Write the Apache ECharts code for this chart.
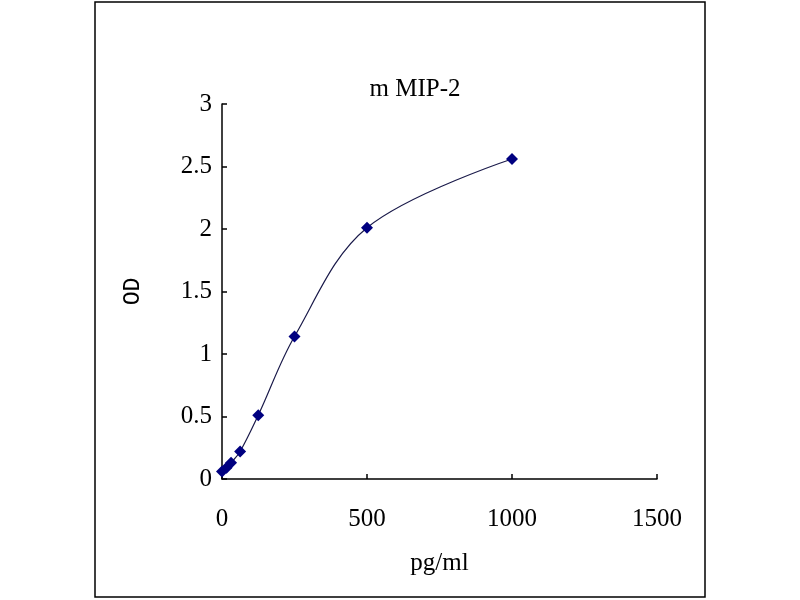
<!DOCTYPE html>
<html>
<head>
<meta charset="utf-8">
<script src="https://cdn.jsdelivr.net/npm/echarts@6/dist/echarts.min.js"></script>
<style>
html,body{margin:0;padding:0;background:#fff;}
#chart{width:800px;height:600px;}
</style>
</head>
<body>
<div id="chart"></div>
<script>
var concentrations = [0, 15.625, 31.25, 62.5, 125, 250, 500, 1000];
var odValues = [0.06, 0.09, 0.13, 0.22, 0.51, 1.14, 2.01, 2.56];
var chartTitle = 'm MIP-2';
var xName = 'pg/ml';
var yName = 'OD';

var serif = '"Liberation Serif", "DejaVu Serif", serif';
var chart = echarts.init(document.getElementById('chart'));
chart.setOption({
  backgroundColor: '#fff',
  animation: false,
  title: {
    text: chartTitle,
    left: 410,
    top: 72,
    textAlign: 'center',
    textStyle: { fontFamily: serif, fontSize: 25, fontWeight: 'normal', color: '#000' }
  },
  graphic: [{
    type: 'rect',
    shape: { x: 95, y: 2, width: 610, height: 595 },
    style: { fill: 'none', stroke: '#000', lineWidth: 1.5 },
    silent: true
  }],
  grid: { left: 222, right: 143, top: 104, bottom: 121 },
  xAxis: {
    type: 'value', min: 0, max: 1500, interval: 500,
    name: xName, nameLocation: 'middle', nameGap: 72,
    nameTextStyle: { fontFamily: serif, fontSize: 25, color: '#000' },
    axisLine: { show: true, onZero: false, lineStyle: { color: '#000', width: 1.5 } },
    axisTick: { show: true, inside: true, length: 5, lineStyle: { color: '#000', width: 1.5 } },
    axisLabel: { margin: 28, fontFamily: serif, fontSize: 25, color: '#000',
      formatter: function (v) { return String(v); } },
    splitLine: { show: false }
  },
  yAxis: {
    type: 'value', min: 0, max: 3, interval: 0.5,
    name: yName, nameLocation: 'middle', nameGap: 78,
    nameTextStyle: { fontFamily: '"Liberation Mono", monospace', fontSize: 23, color: '#000' },
    axisLine: { show: true, lineStyle: { color: '#000', width: 1.5 } },
    axisTick: { show: true, inside: true, length: 5, lineStyle: { color: '#000', width: 1.5 } },
    axisLabel: { margin: 10, fontFamily: serif, fontSize: 25, color: '#000' },
    splitLine: { show: false }
  },
  series: [{
    type: 'line',
    data: concentrations.map(function (c, i) { return [c, odValues[i]]; }),
    smooth: 0.35,
    symbol: 'diamond',
    symbolSize: 12,
    itemStyle: { color: '#000080' },
    lineStyle: { color: '#1a1a4a', width: 1.2 }
  }]
});
</script>
</body>
</html>
